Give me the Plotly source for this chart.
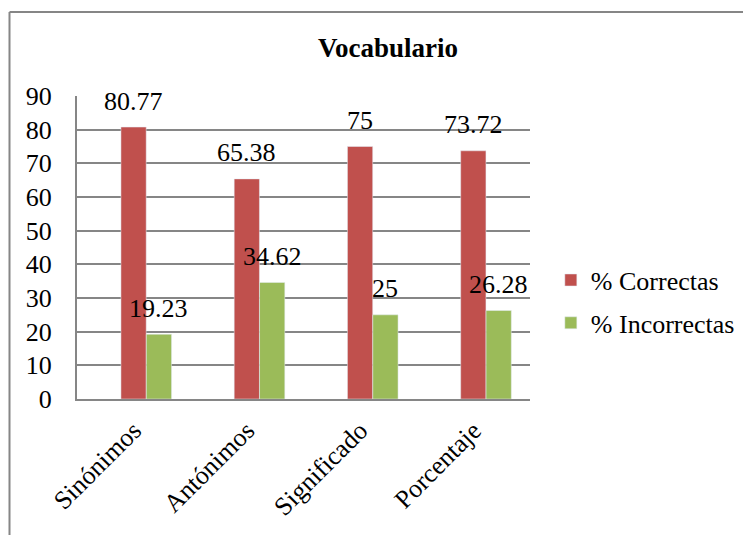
import plotly.graph_objects as go

categories = ["Sinónimos", "Antónimos", "Significado", "Porcentaje"]
correctas = [80.77, 65.38, 75, 73.72]
incorrectas = [19.23, 34.62, 25, 26.28]
correctas_labels = ["80.77", "65.38", "75", "73.72"]
incorrectas_labels = ["19.23", "34.62", "25", "26.28"]
y_ticks = [0, 10, 20, 30, 40, 50, 60, 70, 80, 90]

RED = "#C0504D"
GREEN = "#9BBB59"
GRID = "#868686"
FONT = "Liberation Serif"
BW = 0.223
OFF_R = -0.112
OFF_G = 0.112

xs = list(range(len(categories)))

fig = go.Figure()
fig.add_trace(go.Bar(x=xs, y=correctas, name="% Correctas", marker_color=RED,
                     width=BW, offset=OFF_R, legendgroup="a"))
fig.add_trace(go.Bar(x=xs, y=incorrectas, name="% Incorrectas", marker_color=GREEN,
                     width=BW, offset=OFF_G, legendgroup="b"))

annotations = []
for i, (v, t) in enumerate(zip(correctas, correctas_labels)):
    annotations.append(dict(x=i + OFF_R + BW / 2, y=v, text=t, showarrow=False,
                            xref="x", yref="y", yanchor="middle", yshift=26,
                            font=dict(family=FONT, size=26, color="black")))
for i, (v, t) in enumerate(zip(incorrectas, incorrectas_labels)):
    annotations.append(dict(x=i + OFF_G + BW / 2, y=v, text=t, showarrow=False,
                            xref="x", yref="y", yanchor="middle", yshift=26,
                            font=dict(family=FONT, size=26, color="black")))

shapes = [
    dict(type="line", xref="paper", yref="paper", x0=-0.149, x1=1.6, y0=1.277, y1=1.277,
         line=dict(color=GRID, width=2)),
    dict(type="line", xref="paper", yref="paper", x0=-0.149, x1=-0.149, y0=1.277, y1=-0.5,
         line=dict(color=GRID, width=2)),
]

fig.update_layout(
    width=743, height=527,
    margin=dict(l=69, r=221, t=88, b=136, autoexpand=False),
    paper_bgcolor="white", plot_bgcolor="white",
    barmode="overlay",
    font=dict(family=FONT, size=26, color="black"),
    title=dict(text="<b>Vocabulario</b>", x=380 / 743, xanchor="center", xref="container",
               y=1 - 40 / 527, yanchor="middle", yref="container",
               font=dict(family=FONT, size=27, color="black")),
    xaxis=dict(tickmode="array", tickvals=xs, ticktext=categories, range=[-0.5, 3.5],
               tickangle=-45, showgrid=False, showline=True, linecolor=GRID, linewidth=2,
               ticks="", ticklabelstandoff=4, automargin=False,
               tickfont=dict(family=FONT, size=26)),
    yaxis=dict(range=[0, 90], tickmode="array", tickvals=y_ticks, showgrid=True,
               gridcolor=GRID, gridwidth=1.5, showline=True, linecolor=GRID, linewidth=2,
               ticks="", ticklabelstandoff=18, zeroline=False, automargin=False,
               tickfont=dict(family=FONT, size=26)),
    legend=dict(x=1.046, xanchor="left", y=0.47, yanchor="top", tracegroupgap=6,
                font=dict(family=FONT, size=26, color="black"), bgcolor="rgba(0,0,0,0)"),
    annotations=annotations,
    shapes=shapes,
    showlegend=True,
)

fig.write_html("out.html")
